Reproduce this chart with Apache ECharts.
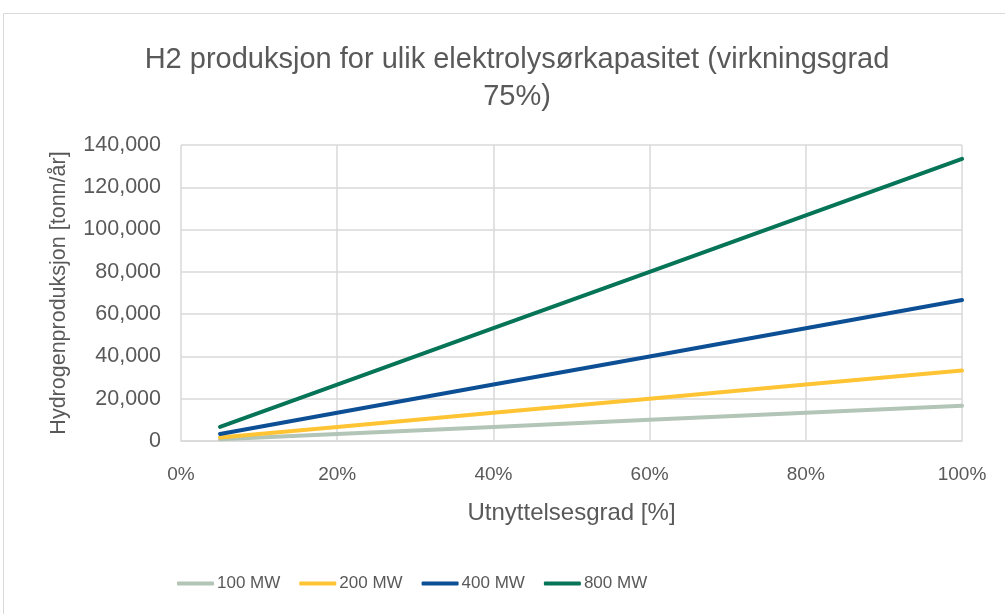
<!DOCTYPE html>
<html>
<head>
<meta charset="utf-8">
<script src="https://cdn.jsdelivr.net/npm/echarts@6/dist/echarts.min.js"></script>
<style>
  html, body { margin: 0; padding: 0; background: #fff; }
  #chart { width: 1005px; height: 614px; }
</style>
</head>
<body>
<div id="chart"></div>
<script>
// Utilization (%) at which production is evaluated
const utilization = [5, 20, 40, 60, 80, 100];

// Hydrogen production [tonn/år] per electrolyser capacity
const mw100 = [830, 3330, 6670, 10000, 13340, 16680];
const mw200 = [1670, 6670, 13340, 20000, 26680, 33360];
const mw400 = [3340, 13340, 26680, 40000, 53360, 66720];
const mw800 = [6670, 26680, 53360, 80000, 106720, 133440];

const seriesNames = ['100 MW', '200 MW', '400 MW', '800 MW'];
const seriesColors = ['#B2C5B7', '#FFC433', '#0C4F95', '#067457'];
const yTicks = { min: 0, max: 140000, interval: 20000 };
const xTicks = { min: 0, max: 100, interval: 20 };

const FONT = 'Liberation Sans';
const TEXT = '#595959';

const pairs = vals => utilization.map((u, i) => [u, vals[i]]);
const allValues = [mw100, mw200, mw400, mw800];

const chart = echarts.init(document.getElementById('chart'), null, { renderer: 'canvas' });
chart.setOption({
  backgroundColor: '#fff',
  animation: false,
  graphic: [{
    type: 'rect',
    shape: { x: 3.5, y: 13.5, width: 1010, height: 610 },
    style: { fill: 'none', stroke: '#d9d9d9', lineWidth: 1 },
    silent: true
  }],
  title: {
    text: 'H2 produksjon for ulik elektrolysørkapasitet (virkningsgrad\n75%)',
    left: 512,
    textAlign: 'center',
    top: 36,
    textStyle: { fontFamily: FONT, fontSize: 29, fontWeight: 'normal', color: TEXT, lineHeight: 37 }
  },
  legend: {
    top: 570,
    left: 172,
    itemWidth: 37,
    itemHeight: 4,
    itemGap: 19,
    icon: 'roundRect',
    textStyle: { fontFamily: FONT, fontSize: 17, color: TEXT, padding: [0, 0, 0, -2] },
    data: seriesNames
  },
  grid: { left: 181, right: 43, top: 145, bottom: 173, containLabel: false },
  xAxis: {
    type: 'value',
    min: xTicks.min, max: xTicks.max, interval: xTicks.interval,
    name: 'Utnyttelsesgrad [%]',
    nameLocation: 'middle',
    nameGap: 60,
    nameTextStyle: { fontFamily: FONT, fontSize: 24, color: TEXT },
    axisLine: { show: true, lineStyle: { color: '#d9d9d9', width: 1.5 } },
    axisTick: { show: false },
    axisLabel: { formatter: v => v + '%', fontFamily: FONT, fontSize: 19, color: TEXT, margin: 24 },
    splitLine: { show: true, lineStyle: { color: '#d9d9d9', width: 1.5 } }
  },
  yAxis: {
    type: 'value',
    min: yTicks.min, max: yTicks.max, interval: yTicks.interval,
    name: 'Hydrogenproduksjon [tonn/år]',
    nameLocation: 'middle',
    nameGap: 111,
    nameTextStyle: { fontFamily: FONT, fontSize: 21.5, color: TEXT },
    axisLine: { show: false },
    axisTick: { show: false },
    axisLabel: {
      formatter: v => v.toLocaleString('en-US'),
      fontFamily: FONT, fontSize: 21.5, color: TEXT, margin: 20
    },
    splitLine: { show: true, lineStyle: { color: '#d9d9d9', width: 1.5 } }
  },
  series: seriesNames.map((name, i) => ({
    name,
    type: 'line',
    data: pairs(allValues[i]),
    showSymbol: false,
    symbol: 'none',
    lineStyle: { color: seriesColors[i], width: 4, cap: 'round' },
    itemStyle: { color: seriesColors[i] }
  }))
});
</script>
</body>
</html>
